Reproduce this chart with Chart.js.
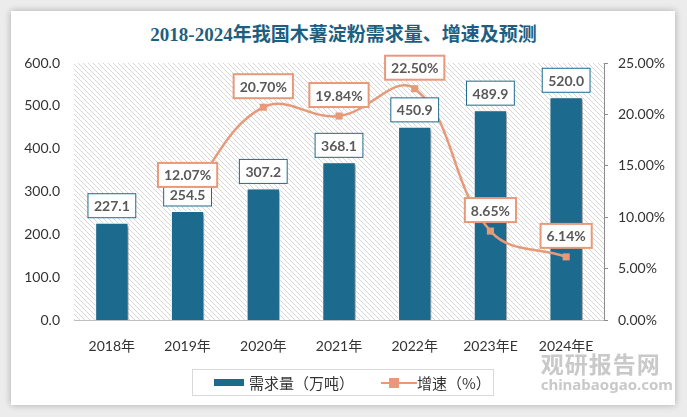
<!DOCTYPE html>
<html>
<head>
<meta charset="utf-8">
<script src="https://cdn.jsdelivr.net/npm/chart.js@4.4.0/dist/chart.umd.min.js"></script>
<style>
  html, body { margin: 0; padding: 0; }
  body { width: 687px; height: 417px; background: #ececec; position: relative; overflow: hidden; font-family: Lato, "Noto Sans CJK SC", sans-serif; }
  #card { position: absolute; left: 11px; top: 11px; width: 664px; height: 394px; background: #fff; box-shadow: 0 0 7px rgba(0,0,0,0.28); }
  #title { position: absolute; left: 0; top: 19px; width: 687px; text-align: center; font: bold 19px "Liberation Serif", "Noto Sans CJK SC", serif; color: #1d5f80; }
  canvas { position: absolute; left: 0; top: 0; }
  #legend { position: absolute; left: 192px; top: 369px; width: 302px; height: 27px; border: 1px solid #d9d9d9; box-sizing: border-box; font: 15px "Noto Sans CJK SC", sans-serif; color: #333; }
  #legend span { position: absolute; top: 2px; }
  #mark { position: absolute; right: 14px; top: 346px; text-align: left; color: #c9c9c9; }
  #mark .cn { font: bold 23px "Noto Sans CJK SC", sans-serif; letter-spacing: 1px; }
  #mark .en { font: bold 15px "Noto Sans", sans-serif; margin-top: -6px; }
</style>
</head>
<body>
<div id="card"></div>
<div id="title">2018-2024年我国木薯淀粉需求量、增速及预测</div>
<canvas id="chart" width="687" height="417"></canvas>
<div id="legend">
  <div style="position:absolute;left:21px;top:9px;width:30px;height:7px;background:#1c6b8e"></div>
  <span style="left:56px">需求量（万吨）</span>
  <div style="position:absolute;left:188px;top:12px;width:36px;height:2px;background:#e8997a"></div>
  <div style="position:absolute;left:196px;top:8px;width:10px;height:10px;background:#e8997a"></div>
  <span style="left:224px">增速（%）</span>
</div>
<div id="mark"><div class="cn">观研报告网</div><div class="en">chinabaogao.com</div></div>
<script>
const categories = ['2018年', '2019年', '2020年', '2021年', '2022年', '2023年E', '2024年E'];
const demand = [227.1, 254.5, 307.2, 368.1, 450.9, 489.9, 520.0];
const growth = [null, 12.07, 20.70, 19.84, 22.50, 8.65, 6.14];

const barColor = '#1c6b8e';
const lineColor = '#e8997a';

function hatch() {
    const c = document.createElement('canvas');
    c.width = 5; c.height = 5;
    const g = c.getContext('2d');
    g.strokeStyle = '#d6d6d6';
    g.lineWidth = 1;
    for (let k = -1; k <= 1; k++) {
        g.beginPath();
        g.moveTo(k * 5, 0);
        g.lineTo(k * 5 + 5, 5);
        g.stroke();
    }
    return c;
}

const backdrop = {
    id: 'backdrop',
    beforeDatasetsDraw(chart) {
        const { ctx, chartArea: a } = chart;
        ctx.save();
        ctx.fillStyle = ctx.createPattern(hatch(), 'repeat');
        ctx.fillRect(a.left, a.top, a.right - a.left, a.bottom - a.top);
        ctx.restore();
    },
    beforeDatasetDraw(chart, args) {
        if (args.index === 0) {
            const ctx = chart.ctx;
            ctx.save();
            ctx.shadowColor = 'rgba(0,0,0,0.45)';
            ctx.shadowBlur = 3;
            ctx.shadowOffsetX = 2;
            ctx.shadowOffsetY = 2;
        }
    },
    afterDatasetDraw(chart, args) {
        if (args.index === 0) chart.ctx.restore();
    }
};

function box(ctx, text, cx, bottom, border, lw) {
    ctx.font = 'bold 14px Lato, sans-serif';
    const w = ctx.measureText(text).width + 12;
    const h = 24;
    const x = cx - w / 2, y = bottom - h;
    ctx.fillStyle = '#fff';
    ctx.fillRect(x, y, w, h);
    ctx.strokeStyle = border;
    ctx.lineWidth = lw;
    ctx.strokeRect(x, y, w, h);
    ctx.fillStyle = '#595959';
    ctx.textAlign = 'center';
    ctx.textBaseline = 'middle';
    ctx.fillText(text, cx, y + h / 2 + 1);
}

const labels = {
    id: 'labels',
    afterDatasetsDraw(chart) {
        const ctx = chart.ctx;
        ctx.save();
        chart.getDatasetMeta(0).data.forEach((el, i) => {
            box(ctx, demand[i].toFixed(1), el.x, el.y - 5, '#1f6a8a', 1);
        });
        chart.getDatasetMeta(1).data.forEach((el, i) => {
            if (growth[i] == null) return;
            box(ctx, growth[i].toFixed(2) + '%', el.x, el.y - 9, lineColor, 2);
        });
        ctx.restore();
    }
};

new Chart(document.getElementById('chart').getContext('2d'), {
    data: {
        labels: categories,
        datasets: [{
            type: 'bar',
            label: '需求量（万吨）',
            data: demand,
            backgroundColor: barColor,
            borderColor: '#ffffff',
            borderWidth: 1,
            barPercentage: 0.44,
            categoryPercentage: 1,
            yAxisID: 'y',
            order: 2
        }, {
            type: 'line',
            label: '增速（%）',
            data: growth,
            borderColor: lineColor,
            backgroundColor: lineColor,
            borderWidth: 2.5,
            tension: 0.4,
            pointStyle: 'rect',
            pointRadius: 5,
            pointBorderWidth: 0,
            yAxisID: 'y1',
            order: 1
        }]
    },
    options: {
        responsive: false,
        animation: false,
        layout: { padding: { top: 63, left: 0, right: 0, bottom: 0 } },
        plugins: {
            legend: { display: false },
            tooltip: { enabled: false }
        },
        scales: {
            x: {
                grid: { display: false, drawTicks: false },
                border: { display: true, color: '#bfbfbf' },
                ticks: { color: '#333', padding: 18, font: { size: 14, family: 'Lato, "Noto Sans CJK SC"' } },
                afterFit(s) { s.height = 97; }
            },
            y: {
                position: 'left',
                min: 0, max: 600,
                grid: { display: false, drawTicks: false },
                border: { display: false },
                ticks: {
                    stepSize: 100, padding: 14, color: '#333',
                    font: { size: 14, family: 'Lato' },
                    callback: v => v.toFixed(1)
                },
                afterFit(s) { s.width = 74; }
            },
            y1: {
                position: 'right',
                min: 0, max: 25,
                grid: { drawOnChartArea: false, tickLength: 4, color: '#8c8c8c' },
                border: { display: true, color: '#8c8c8c' },
                ticks: {
                    stepSize: 5, padding: 10, color: '#333',
                    font: { size: 14, family: 'Lato' },
                    callback: v => v.toFixed(2) + '%'
                },
                afterFit(s) { s.width = 83; }
            }
        }
    },
    plugins: [backdrop, labels]
});
</script>
</body>
</html>
